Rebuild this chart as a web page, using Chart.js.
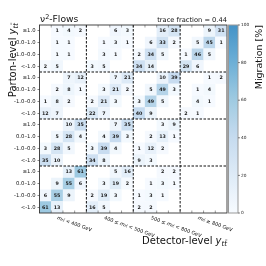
<!DOCTYPE html>
<html>
<head>
<meta charset="utf-8">
<script src="https://cdn.jsdelivr.net/npm/chart.js@4"></script>
<style>
  html, body { margin: 0; padding: 0; background: #fff; }
  canvas { display: block; }
</style>
</head>
<body>
<canvas id="chart" width="266" height="266"></canvas>
<script>
const _ = null;

// parton-level rows, top block = highest mass; columns = detector-level bins
const partonGe800 = [
  [_, 1, 4, 2,   _, _, 6, 3,   _, _, 16, 28,  _, _, 9, 31],
  [_, 1, 1, _,   _, 1, 3, 1,   _, 6, 33, 2,   _, 5, 45, 1],
  [_, 1, 1, _,   _, 3, 1, _,   2, 34, 5, _,   1, 46, 5, _],
  [2, 5, _, _,   3, 5, _, _,   34, 14, _, _,  29, 6, _, _],
];
const parton500to800 = [
  [_, _, 7, 12,  _, _, 7, 21,  _, _, 10, 39,  _, _, 1, 2],
  [_, 2, 8, 1,   _, 3, 21, 2,  _, 5, 49, 3,   _, 1, 4, _],
  [1, 8, 2, _,   2, 21, 3, _,  3, 49, 5, _,   _, 4, 1, _],
  [12, 7, _, _,  22, 7, _, _,  40, 9, _, _,   2, 1, _, _],
];
const parton400to500 = [
  [_, _, 10, 35, _, _, 7, 35,  _, _, 3, 9,    _, _, _, _],
  [_, 5, 28, 4,  _, 4, 39, 3,  _, 2, 13, 1,   _, _, _, _],
  [3, 28, 5, _,  3, 39, 4, _,  1, 12, 2, _,   _, _, _, _],
  [35, 10, _, _, 34, 8, _, _,  9, 3, _, _,    _, _, _, _],
];
const partonLt400 = [
  [_, _, 13, 61, _, _, 5, 16,  _, _, 2, 2,    _, _, _, _],
  [_, 9, 55, 6,  _, 3, 19, 2,  _, 1, 3, 1,    _, _, _, _],
  [6, 55, 9, _,  2, 19, 3, _,  1, 3, 1, _,    _, _, _, _],
  [61, 13, _, _, 16, 5, _, _,  2, 2, _, _,    _, _, _, _],
];

const rapidityBins = ['\u22651.0', '0.0\u20131.0', '-1.0\u20130.0', '<-1.0'];
const massBinLabels = [
  [['m', 'i'], ['tt\u0304', 'sub'], [' < 400 GeV', '']],
  [['400 \u2264 ', ''], ['m', 'i'], ['tt\u0304', 'sub'], [' < 500 GeV', '']],
  [['500 \u2264 ', ''], ['m', 'i'], ['tt\u0304', 'sub'], [' < 800 GeV', '']],
  [['m', 'i'], ['tt\u0304', 'sub'], [' \u2265 800 GeV', '']],
];
const colorbarTicks = [0, 20, 40, 60, 80, 100];
const traceFraction = 0.44;

const FONT = '"DejaVu Sans"';
const rows = [...partonGe800, ...parton500to800, ...parton400to500, ...partonLt400];
const rowLabels = [...rapidityBins, ...rapidityBins, ...rapidityBins, ...rapidityBins];

const cells = [];
rows.forEach((row, r) => {
  row.forEach((v, c) => {
    if (v !== null) cells.push({ x: c, y: r, v: v });
  });
});

// Blues colormap, only the lower part of it is used (as in the colorbar)
const blues = ['#f7fbff', '#deebf7', '#c6dbef', '#9ecae1', '#6baed6', '#4292c6', '#2171b5', '#08519c', '#08306b'];
function hexToRgb(h) {
  return [parseInt(h.slice(1, 3), 16), parseInt(h.slice(3, 5), 16), parseInt(h.slice(5, 7), 16)];
}
function migrationColor(v) {
  const t = Math.max(0, Math.min(1, v / 100)) * 0.62 * (blues.length - 1);
  const i = Math.min(Math.floor(t), blues.length - 2);
  const f = t - i;
  const a = hexToRgb(blues[i]);
  const b = hexToRgb(blues[i + 1]);
  const c = a.map((x, k) => Math.round(x + (b[k] - x) * f));
  return `rgb(${c[0]},${c[1]},${c[2]})`;
}

function partFont(kind, size, bold) {
  const italic = kind === 'i' || kind === 'sub';
  const s = kind === 'sub' || kind === 'sup' ? size * 0.7 : size;
  return `${italic ? 'italic ' : ''}${bold ? 'bold ' : ''}${s}px ${FONT}`;
}
function richWidth(ctx, parts, size) {
  let w = 0;
  parts.forEach(([t, kind]) => {
    ctx.font = partFont(kind, size);
    w += ctx.measureText(t).width;
  });
  return w;
}
function drawRich(ctx, parts, x, y, size, align) {
  const w = richWidth(ctx, parts, size);
  let cx = align === 'right' ? x - w : align === 'center' ? x - w / 2 : x;
  ctx.textAlign = 'left';
  parts.forEach(([t, kind]) => {
    ctx.font = partFont(kind, size);
    let dy = 0;
    if (kind === 'sub') dy = size * 0.22;
    if (kind === 'sup') dy = -size * 0.38;
    ctx.fillText(t, cx, y + dy);
    cx += ctx.measureText(t).width;
  });
}

const decorations = {
  id: 'decorations',
  afterDatasetsDraw(chart) {
    const { ctx, chartArea: area, scales } = chart;
    const x = scales.x, y = scales.y;
    ctx.save();

    // cell numbers
    ctx.fillStyle = '#1a1a1a';
    ctx.font = `bold 4.8px ${FONT}`;
    ctx.textAlign = 'center';
    ctx.textBaseline = 'middle';
    cells.forEach(p => {
      ctx.fillText(String(p.v), x.getPixelForValue(p.x), y.getPixelForValue(p.y) + 0.3);
    });

    // minor ticks at the cell edges, top and bottom, pointing inwards
    ctx.strokeStyle = '#555';
    ctx.lineWidth = 0.6;
    ctx.beginPath();
    for (let i = 0; i < 15; i++) {
      const px = x.getPixelForValue(i + 0.5);
      ctx.moveTo(px, area.bottom);
      ctx.lineTo(px, area.bottom - 2.5);
      ctx.moveTo(px, area.top);
      ctx.lineTo(px, area.top + 2.5);
    }
    ctx.stroke();

    // dashed separators between mass blocks
    ctx.strokeStyle = '#111';
    ctx.lineWidth = 1;
    ctx.setLineDash([2.5, 1.5]);
    ctx.beginPath();
    [3.5, 7.5, 11.5].forEach(b => {
      const px = x.getPixelForValue(b);
      const py = y.getPixelForValue(b);
      ctx.moveTo(px, area.top);
      ctx.lineTo(px, area.bottom);
      ctx.moveTo(area.left, py);
      ctx.lineTo(area.right, py);
    });
    ctx.stroke();
    ctx.setLineDash([]);

    // frame
    ctx.strokeStyle = '#333';
    ctx.lineWidth = 0.9;
    ctx.strokeRect(area.left, area.top, area.right - area.left, area.bottom - area.top);
    ctx.restore();
  },
  afterDraw(chart) {
    const { ctx, chartArea: area, scales } = chart;
    const x = scales.x, cb = scales.cb;
    ctx.save();
    ctx.fillStyle = '#111';
    ctx.textBaseline = 'alphabetic';

    // mass bin labels, rotated clockwise under each block
    massBinLabels.forEach((parts, b) => {
      ctx.save();
      ctx.translate(x.getPixelForValue(b * 4 + 1) + 1, area.bottom + 2.5);
      ctx.rotate(20 * Math.PI / 180);
      ctx.textBaseline = 'top';
      drawRich(ctx, parts, 0, 0, 5, 'left');
      ctx.restore();
    });

    // titles
    ctx.textBaseline = 'alphabetic';
    drawRich(ctx, [['\u03bd', ''], ['2', 'sup'], ['-Flows', '']], area.left + 0.5, area.top - 3, 9.2, 'left');
    ctx.font = `6.7px ${FONT}`;
    ctx.textAlign = 'right';
    ctx.fillText(`trace fraction = ${traceFraction.toFixed(2)}`, area.right, area.top - 3);

    // axis titles
    drawRich(ctx, [['Detector-level ', ''], ['y', 'i'], ['tt\u0304', 'sub']], area.right, 244, 10, 'right');
    ctx.save();
    ctx.translate(15.5, area.top - 2);
    ctx.rotate(-Math.PI / 2);
    drawRich(ctx, [['Parton-level ', ''], ['y', 'i'], ['tt\u0304', 'sub']], 0, 0, 10, 'right');
    ctx.restore();

    // colorbar
    const cbLeft = area.right + 1.5, cbRight = area.right + 11;
    const top = cb.getPixelForValue(100), bottom = cb.getPixelForValue(0);
    const grad = ctx.createLinearGradient(0, bottom, 0, top);
    for (let k = 0; k <= 20; k++) grad.addColorStop(k / 20, migrationColor(k * 5));
    ctx.fillStyle = grad;
    ctx.fillRect(cbLeft, top, cbRight - cbLeft, bottom - top);
    ctx.strokeStyle = '#999';
    ctx.lineWidth = 1;
    ctx.strokeRect(cbLeft, top, cbRight - cbLeft, bottom - top);

    ctx.strokeStyle = '#333';
    ctx.lineWidth = 0.6;
    ctx.fillStyle = '#222';
    ctx.font = `4.3px ${FONT}`;
    ctx.textAlign = 'left';
    ctx.textBaseline = 'middle';
    colorbarTicks.forEach(t => {
      const py = cb.getPixelForValue(t);
      ctx.beginPath();
      ctx.moveTo(cbRight, py);
      ctx.lineTo(cbRight + 2, py);
      ctx.stroke();
      ctx.fillText(String(t), cbRight + 3, py);
    });

    ctx.fillStyle = '#111';
    ctx.save();
    ctx.translate(261.5, top);
    ctx.rotate(-Math.PI / 2);
    ctx.textBaseline = 'alphabetic';
    ctx.font = `9.5px ${FONT}`;
    ctx.textAlign = 'right';
    ctx.fillText('Migration [%]', 0, 0);
    ctx.restore();

    ctx.restore();
  }
};

new Chart(document.getElementById('chart'), {
  type: 'scatter',
  data: {
    datasets: [{
      data: cells,
      pointStyle: 'rect',
      radius: (ctx) => {
        const sx = ctx.chart.scales.x;
        return Math.abs(sx.getPixelForValue(1) - sx.getPixelForValue(0)) / Math.SQRT2 + 0.15;
      },
      backgroundColor: (ctx) => (ctx.raw ? migrationColor(ctx.raw.v) : 'transparent'),
      borderWidth: 0,
    }],
  },
  options: {
    responsive: false,
    animation: false,
    events: [],
    devicePixelRatio: 1,
    layout: { padding: { top: 25, bottom: 53, left: 0, right: 39 } },
    plugins: {
      legend: { display: false },
      tooltip: { enabled: false },
    },
    scales: {
      x: {
        type: 'linear',
        min: -0.5,
        max: 15.5,
        ticks: { display: false },
        grid: { display: false },
        border: { display: false },
        afterFit: (s) => { s.height = 0; },
      },
      y: {
        type: 'linear',
        reverse: true,
        min: -0.5,
        max: 15.5,
        afterBuildTicks: (s) => { s.ticks = rowLabels.map((_, i) => ({ value: i })); },
        ticks: {
          autoSkip: false,
          padding: 2,
          color: '#222',
          font: { family: 'DejaVu Sans', size: 5.3 },
          callback: (v) => rowLabels[v],
        },
        grid: { drawOnChartArea: false, tickLength: 2, color: '#333', lineWidth: 0.6 },
        border: { display: false },
        afterFit: (s) => { s.width = 39.5; },
      },
      cb: {
        type: 'linear',
        axis: 'y',
        position: 'right',
        display: false,
        min: 0,
        max: 100,
      },
    },
  },
  plugins: [decorations],
});
</script>
</body>
</html>
